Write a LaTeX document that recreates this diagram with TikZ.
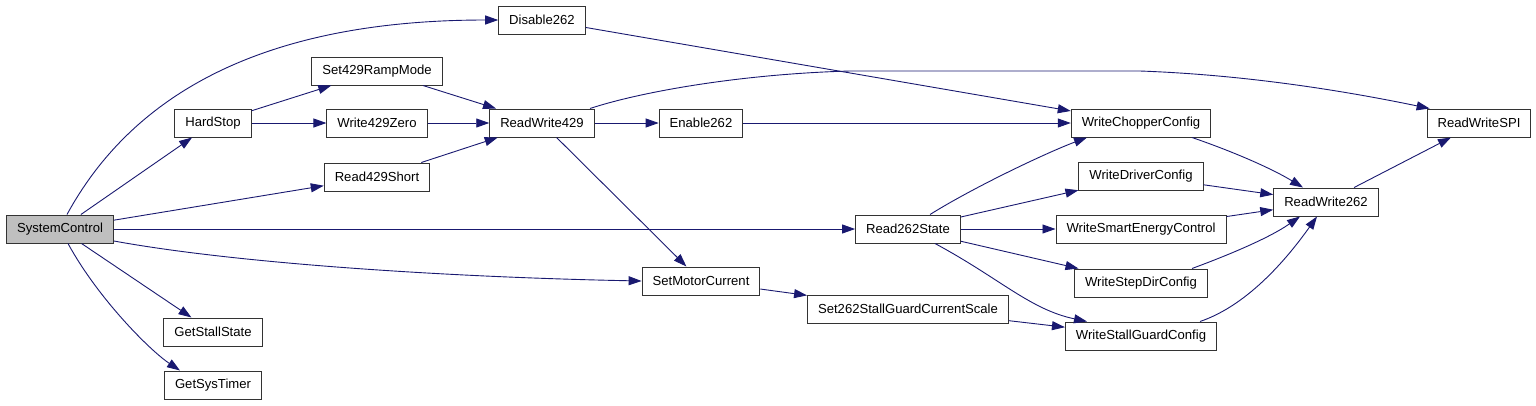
\documentclass[tikz,border=0pt]{standalone}
\usepackage{fontspec}
\setmainfont{Liberation Sans}
\usetikzlibrary{arrows.meta}
\definecolor{edgecol}{RGB}{25,25,112}
\definecolor{rootcol}{RGB}{191,191,191}

\begin{document}
\begin{tikzpicture}[x=1pt,y=-1pt,
  fn/.style={draw=black!80,line width=1pt,fill=white,minimum height=28pt,
    inner xsep=10.5pt,inner ysep=0pt,font=\fontsize{13.1}{16}\selectfont},
  rootfn/.style={fn,fill=rootcol},
  call/.style={draw=edgecol,line width=0.9pt,-{Triangle[length=13pt,width=9pt]}}]
\useasboundingbox (0,0) rectangle (1536,405);
% functions
\node[rootfn] (sysctrl) at (60,229) {SystemControl};
\node[fn] (hardstop) at (213,123) {HardStop};
\node[fn] (getstall) at (213,332) {GetStallState};
\node[fn] (gettimer) at (213,385) {GetSysTimer};
\node[fn] (ramp) at (377,71) {Set429RampMode};
\node[fn] (zero) at (377,123) {Write429Zero};
\node[fn] (rshort) at (377,177) {Read429Short};
\node[fn] (disable) at (542,20) {Disable262};
\node[fn] (rw429) at (542,123) {ReadWrite429};
\node[fn] (enable) at (701,123) {Enable262};
\node[fn] (motor) at (701,281) {SetMotorCurrent};
\node[fn] (r262) at (908,229) {Read262State};
\node[fn] (scale) at (908,309) {Set262StallGuardCurrentScale};
\node[fn] (chopper) at (1141,123) {WriteChopperConfig};
\node[fn] (driver) at (1141,176) {WriteDriverConfig};
\node[fn] (smart) at (1141,229) {WriteSmartEnergyControl};
\node[fn] (stepdir) at (1141,283) {WriteStepDirConfig};
\node[fn] (stallcfg) at (1141,336) {WriteStallGuardConfig};
\node[fn] (rw262) at (1326,202) {ReadWrite262};
\node[fn] (spi) at (1479,123) {ReadWriteSPI};
% calls from SystemControl
\draw[call] ([xshift=7pt]sysctrl.north) .. controls +(60,-110) and +(-250,0) .. (disable.west);
\draw[call] (sysctrl) -- (hardstop);
\draw[call] (sysctrl) -- (rshort);
\draw[call] (sysctrl) -- (r262);
\draw[call] ([yshift=-12pt]sysctrl.east) .. controls +(120,22) and +(-200,-4) .. (motor.west);
\draw[call] (sysctrl) -- (getstall);
\draw[call] ([xshift=8pt]sysctrl.south) .. controls +(30,55) and +(-30,-20) .. ([xshift=-33pt]gettimer.north);
% 429 side
\draw[call] (hardstop) -- (ramp);
\draw[call] (hardstop) -- (zero);
\draw[call] (ramp) -- (rw429);
\draw[call] (zero) -- (rw429);
\draw[call] (rshort) -- (rw429);
\draw[call] (rw429) -- (enable);
\draw[call] (rw429) -- (motor);
\draw[call] ([xshift=48pt]rw429.north) .. controls (640,92) and (740,74) .. (850,71)
  -- (1140,71) .. controls (1250,75) and (1350,92) .. ([xshift=3pt]spi.north west);
% 262 side
\draw[call] (disable) -- (chopper);
\draw[call] (enable) -- (chopper);
\draw[call] ([xshift=22pt]r262.north) .. controls +(45,-28) and +(-40,15) .. ([xshift=-54pt]chopper.south);
\draw[call] (r262) -- (driver);
\draw[call] (r262) -- (smart);
\draw[call] (r262) -- (stepdir);
\draw[call] ([xshift=27pt]r262.south) .. controls +(65,35) and +(-57,-12) .. ([xshift=-54pt]stallcfg.north);
\draw[call] (motor) -- (scale);
\draw[call] (scale) -- (stallcfg);
\draw[call] ([xshift=51pt]chopper.south) .. controls +(38,13) and +(-33,-20) .. ([xshift=-23pt]rw262.north);
\draw[call] (driver) -- (rw262);
\draw[call] (smart) -- (rw262);
\draw[call] ([xshift=51pt]stepdir.north) .. controls +(38,-14) and +(-30,21) .. ([xshift=-26pt]rw262.south);
\draw[call] ([xshift=59pt]stallcfg.north) .. controls +(50,-17) and +(-27,38) .. ([xshift=-9pt]rw262.south);
\draw[call] (rw262) -- (spi);
\end{tikzpicture}
\end{document}
